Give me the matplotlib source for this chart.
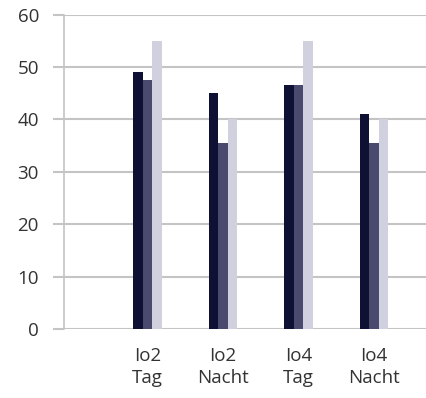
import numpy as np
import matplotlib
matplotlib.use('Agg')
import matplotlib.pyplot as plt

# Chart data
categories = ['Io2\nTag', 'Io2\nNacht', 'Io4\nTag', 'Io4\nNacht']
series_a = [49, 45, 46.5, 41]
series_b = [47.5, 35.5, 46.5, 35.5]
series_c = [55, 40, 55, 40]
y_ticks = [0, 10, 20, 30, 40, 50, 60]

colors = ['#0e1133', '#494a6d', '#d0d0de']
grid_color = '#c4c4c4'
text_color = '#333333'

plt.rcParams['font.family'] = ['Open Sans', 'DejaVu Sans']

fig = plt.figure(figsize=(4.27, 3.98), dpi=100)
ax = fig.add_axes([64 / 427, 69 / 398, 1 - 64 / 427, (329 - 14.5) / 398])

x = np.arange(1, len(categories) + 1)
w = 0.128
for i, vals in enumerate([series_a, series_b, series_c]):
    ax.bar(x + (i - 1) * w, vals, width=w, color=colors[i], zorder=3, linewidth=0)

ax.set_ylim(0, 60)
ax.set_xlim(1 - (147.5 - 64) / 75.5, 1 + (427 - 147.5) / 75.5)
ax.set_yticks(y_ticks)
ax.set_xticks(x)
ax.set_xticklabels(categories, linespacing=1.3)

ax.yaxis.grid(True, color=grid_color, linewidth=1.5, zorder=0)
ax.tick_params(axis='y', length=8, width=1.5, color=grid_color, pad=10,
               labelsize=13.5, labelcolor=text_color)
ax.tick_params(axis='x', length=0, pad=13, labelsize=13.5, labelcolor=text_color)

for s in ['top', 'right', 'bottom']:
    ax.spines[s].set_visible(False)
ax.spines['left'].set_color(grid_color)
ax.spines['left'].set_linewidth(1.2)

fig.savefig('out.png', dpi=100)
